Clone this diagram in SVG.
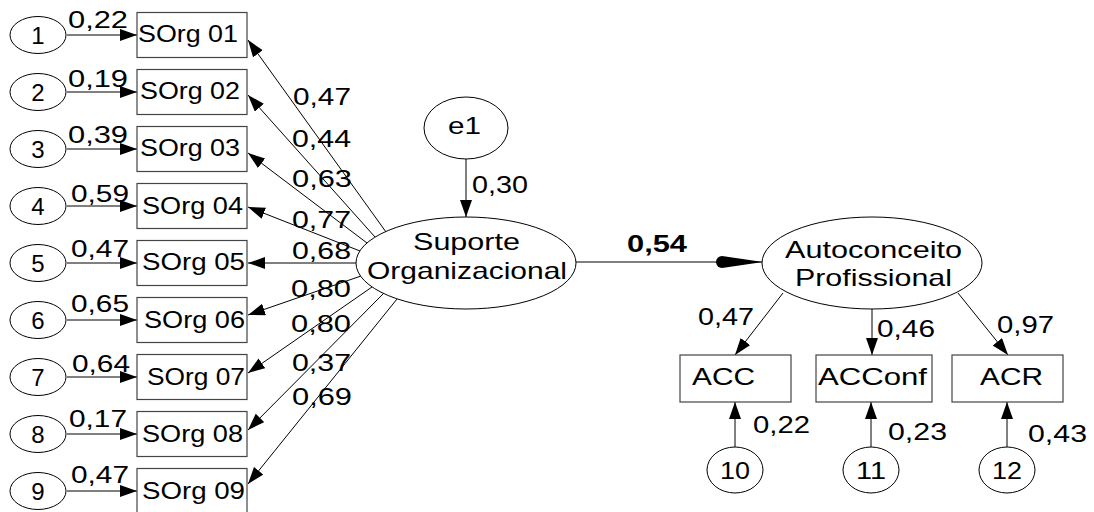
<svg xmlns="http://www.w3.org/2000/svg" width="1094" height="512" viewBox="0 0 1094 512">
<style>
text{font-family:"Liberation Sans",Arial,sans-serif;font-size:24px;fill:#000}
.b{font-weight:bold}
.m{text-anchor:middle}
.ov{fill:#fff;stroke:#000;stroke-width:1}
.bx{fill:#fff;stroke:#444;stroke-width:1.2}
.ln{fill:none;stroke:#000;stroke-width:1}
</style>
<defs>
<marker id="ah" markerUnits="userSpaceOnUse" markerWidth="20" markerHeight="14" refX="17" refY="6" orient="auto">
<path d="M0,0 L17,6 L0,12 z" fill="#000"/>
</marker>
</defs>
<rect width="1094" height="512" fill="#fff"/>
<g id="connectors">
<line class="ln" x1="67" y1="35" x2="137" y2="35" marker-end="url(#ah)"/>
<line class="ln" x1="67" y1="92" x2="137" y2="92" marker-end="url(#ah)"/>
<line class="ln" x1="67" y1="149" x2="137" y2="149" marker-end="url(#ah)"/>
<line class="ln" x1="67" y1="206" x2="137" y2="206" marker-end="url(#ah)"/>
<line class="ln" x1="67" y1="263" x2="137" y2="263" marker-end="url(#ah)"/>
<line class="ln" x1="67" y1="320" x2="137" y2="320" marker-end="url(#ah)"/>
<line class="ln" x1="67" y1="377" x2="137" y2="377" marker-end="url(#ah)"/>
<line class="ln" x1="67" y1="434" x2="137" y2="434" marker-end="url(#ah)"/>
<line class="ln" x1="67" y1="491" x2="137" y2="491" marker-end="url(#ah)"/>
<line class="ln" x1="386" y1="232" x2="248" y2="40" marker-end="url(#ah)"/>
<line class="ln" x1="375" y1="237" x2="248" y2="95" marker-end="url(#ah)"/>
<line class="ln" x1="367" y1="243" x2="248" y2="153" marker-end="url(#ah)"/>
<line class="ln" x1="360" y1="251" x2="248" y2="207" marker-end="url(#ah)"/>
<line class="ln" x1="356" y1="263" x2="248" y2="263" marker-end="url(#ah)"/>
<line class="ln" x1="361" y1="276" x2="248" y2="315" marker-end="url(#ah)"/>
<line class="ln" x1="372" y1="287" x2="248" y2="373" marker-end="url(#ah)"/>
<line class="ln" x1="384" y1="293" x2="248" y2="430" marker-end="url(#ah)"/>
<line class="ln" x1="397" y1="299" x2="248" y2="484" marker-end="url(#ah)"/>
<line class="ln" x1="466" y1="159" x2="466" y2="217" marker-end="url(#ah)"/>
<line class="ln" x1="576" y1="262" x2="762" y2="262"/>
<path d="M763,262 L722,256 A6,6 0 0 0 722,268 Z" fill="#000"/>
<line class="ln" x1="783" y1="293" x2="735" y2="355" marker-end="url(#ah)"/>
<line class="ln" x1="872" y1="309" x2="872" y2="355" marker-end="url(#ah)"/>
<line class="ln" x1="958" y1="293" x2="1008" y2="355" marker-end="url(#ah)"/>
<line class="ln" x1="735" y1="447" x2="735" y2="402" marker-end="url(#ah)"/>
<line class="ln" x1="871" y1="447" x2="871" y2="402" marker-end="url(#ah)"/>
<line class="ln" x1="1007" y1="447" x2="1007" y2="402" marker-end="url(#ah)"/>
</g>
<g id="e-1"><ellipse class="ov" cx="38" cy="35" rx="28" ry="18.5"/><text class="m" x="38" y="44">1</text></g>
<g id="e-2"><ellipse class="ov" cx="38" cy="92" rx="28" ry="18.5"/><text class="m" x="38" y="101">2</text></g>
<g id="e-3"><ellipse class="ov" cx="38" cy="149" rx="28" ry="18.5"/><text class="m" x="38" y="158">3</text></g>
<g id="e-4"><ellipse class="ov" cx="38" cy="206" rx="28" ry="18.5"/><text class="m" x="38" y="215">4</text></g>
<g id="e-5"><ellipse class="ov" cx="38" cy="263" rx="28" ry="18.5"/><text class="m" x="38" y="272">5</text></g>
<g id="e-6"><ellipse class="ov" cx="38" cy="320" rx="28" ry="18.5"/><text class="m" x="38" y="329">6</text></g>
<g id="e-7"><ellipse class="ov" cx="38" cy="377" rx="28" ry="18.5"/><text class="m" x="38" y="386">7</text></g>
<g id="e-8"><ellipse class="ov" cx="38" cy="434" rx="28" ry="18.5"/><text class="m" x="38" y="443">8</text></g>
<g id="e-9"><ellipse class="ov" cx="38" cy="491" rx="28" ry="18.5"/><text class="m" x="38" y="500">9</text></g>
<g id="labels-left">
<text x="68" y="28" textLength="60" lengthAdjust="spacingAndGlyphs">0,22</text>
<text x="68" y="87" textLength="60" lengthAdjust="spacingAndGlyphs">0,19</text>
<text x="68" y="143" textLength="60" lengthAdjust="spacingAndGlyphs">0,39</text>
<text x="71" y="202" textLength="58" lengthAdjust="spacingAndGlyphs">0,59</text>
<text x="71" y="257" textLength="58" lengthAdjust="spacingAndGlyphs">0,47</text>
<text x="71" y="312" textLength="58" lengthAdjust="spacingAndGlyphs">0,65</text>
<text x="72" y="372" textLength="58" lengthAdjust="spacingAndGlyphs">0,64</text>
<text x="69" y="427" textLength="58" lengthAdjust="spacingAndGlyphs">0,17</text>
<text x="71" y="483" textLength="58" lengthAdjust="spacingAndGlyphs">0,47</text>
</g>
<g id="sorg-01"><rect class="bx" x="137" y="12.5" width="110" height="45"/><text x="138" y="42" textLength="100" lengthAdjust="spacingAndGlyphs">SOrg 01</text></g>
<g id="sorg-02"><rect class="bx" x="137" y="69.5" width="110" height="45"/><text x="140" y="99" textLength="100" lengthAdjust="spacingAndGlyphs">SOrg 02</text></g>
<g id="sorg-03"><rect class="bx" x="137" y="126.5" width="110" height="45"/><text x="140" y="156" textLength="100" lengthAdjust="spacingAndGlyphs">SOrg 03</text></g>
<g id="sorg-04"><rect class="bx" x="137" y="183.5" width="110" height="45"/><text x="142" y="214" textLength="101" lengthAdjust="spacingAndGlyphs">SOrg 04</text></g>
<g id="sorg-05"><rect class="bx" x="137" y="240.5" width="110" height="45"/><text x="142" y="270" textLength="103" lengthAdjust="spacingAndGlyphs">SOrg 05</text></g>
<g id="sorg-06"><rect class="bx" x="137" y="297.5" width="110" height="45"/><text x="144" y="328" textLength="101" lengthAdjust="spacingAndGlyphs">SOrg 06</text></g>
<g id="sorg-07"><rect class="bx" x="137" y="354.5" width="110" height="45"/><text x="147" y="385" textLength="98" lengthAdjust="spacingAndGlyphs">SOrg 07</text></g>
<g id="sorg-08"><rect class="bx" x="137" y="411.5" width="110" height="45"/><text x="142" y="442" textLength="101" lengthAdjust="spacingAndGlyphs">SOrg 08</text></g>
<g id="sorg-09"><rect class="bx" x="137" y="468.5" width="110" height="45"/><text x="142" y="499" textLength="103" lengthAdjust="spacingAndGlyphs">SOrg 09</text></g>
<g id="labels-loadings">
<text x="293" y="105" textLength="58" lengthAdjust="spacingAndGlyphs">0,47</text>
<text x="292" y="147" textLength="59" lengthAdjust="spacingAndGlyphs">0,44</text>
<text x="292" y="187" textLength="60" lengthAdjust="spacingAndGlyphs">0,63</text>
<text x="292" y="228" textLength="59" lengthAdjust="spacingAndGlyphs">0,77</text>
<text x="292" y="259" textLength="59" lengthAdjust="spacingAndGlyphs">0,68</text>
<text x="291" y="297" textLength="60" lengthAdjust="spacingAndGlyphs">0,80</text>
<text x="291" y="332" textLength="60" lengthAdjust="spacingAndGlyphs">0,80</text>
<text x="292" y="371" textLength="59" lengthAdjust="spacingAndGlyphs">0,37</text>
<text x="292" y="405" textLength="60" lengthAdjust="spacingAndGlyphs">0,69</text>
</g>
<g id="e1"><ellipse class="ov" cx="466" cy="128" rx="42" ry="31"/><text x="448" y="134" textLength="33" lengthAdjust="spacingAndGlyphs">e1</text></g>
<text x="472" y="193" textLength="56" lengthAdjust="spacingAndGlyphs">0,30</text>
<g id="suporte"><ellipse class="ov" cx="466" cy="263" rx="110" ry="46"/>
<text x="413" y="250" textLength="107" lengthAdjust="spacingAndGlyphs">Suporte</text>
<text x="367" y="279" textLength="200" lengthAdjust="spacingAndGlyphs">Organizacional</text></g>
<text class="b" x="627" y="252" textLength="60" lengthAdjust="spacingAndGlyphs">0,54</text>
<g id="autoconceito"><ellipse class="ov" cx="872" cy="263" rx="110" ry="46"/>
<text x="785" y="258" textLength="177" lengthAdjust="spacingAndGlyphs">Autoconceito</text>
<text x="795" y="286" textLength="157" lengthAdjust="spacingAndGlyphs">Profissional</text></g>
<g id="acc"><rect class="bx" x="680" y="355" width="111" height="47"/><text x="692" y="385" textLength="63" lengthAdjust="spacingAndGlyphs">ACC</text></g>
<g id="acconf"><rect class="bx" x="816" y="355" width="116" height="47"/><text x="818" y="385" textLength="109" lengthAdjust="spacingAndGlyphs">ACConf</text></g>
<g id="acr"><rect class="bx" x="952" y="355" width="111" height="47"/><text x="980" y="385" textLength="63" lengthAdjust="spacingAndGlyphs">ACR</text></g>
<g id="e-10"><ellipse class="ov" cx="735" cy="470" rx="28" ry="23"/><text x="720" y="479" textLength="30" lengthAdjust="spacingAndGlyphs">10</text></g>
<g id="e-11"><ellipse class="ov" cx="871" cy="470" rx="28" ry="23"/><text x="856" y="479" textLength="30" lengthAdjust="spacingAndGlyphs">11</text></g>
<g id="e-12"><ellipse class="ov" cx="1007" cy="470" rx="28" ry="23"/><text x="992" y="479" textLength="30" lengthAdjust="spacingAndGlyphs">12</text></g>
<g id="labels-right">
<text x="698" y="325" textLength="56" lengthAdjust="spacingAndGlyphs">0,47</text>
<text x="877" y="337" textLength="58" lengthAdjust="spacingAndGlyphs">0,46</text>
<text x="997" y="333" textLength="57" lengthAdjust="spacingAndGlyphs">0,97</text>
<text x="753" y="433" textLength="57" lengthAdjust="spacingAndGlyphs">0,22</text>
<text x="888" y="440" textLength="59" lengthAdjust="spacingAndGlyphs">0,23</text>
<text x="1028" y="442" textLength="59" lengthAdjust="spacingAndGlyphs">0,43</text>
</g>
</svg>
